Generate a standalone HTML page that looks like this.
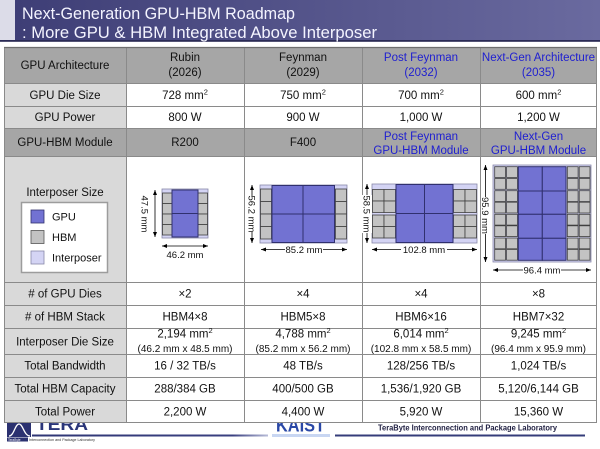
<!DOCTYPE html>
<html><head><meta charset="utf-8"><style>
html,body{margin:0;padding:0;background:#fff}
body{width:600px;height:449px;overflow:hidden}
svg{display:block}
text{font-family:"Liberation Sans",Arial,sans-serif}
</style></head><body>
<svg width="600" height="449" viewBox="0 0 600 449" xmlns="http://www.w3.org/2000/svg">
<defs>
<linearGradient id="tb" x1="0" y1="0" x2="1" y2="0">
<stop offset="0" stop-color="#3d3d75"/><stop offset="1" stop-color="#6a6a9f"/>
</linearGradient>
<linearGradient id="fl" x1="0" y1="0" x2="1" y2="0">
<stop offset="0" stop-color="#2f3675"/><stop offset="0.85" stop-color="#3a4080"/><stop offset="1" stop-color="#b8bcd8"/>
</linearGradient>
<marker id="ar" viewBox="0 0 10 10" refX="10" refY="5" markerUnits="userSpaceOnUse" markerWidth="5" markerHeight="5" orient="auto-start-reverse">
<path d="M0,1 L10,5 L0,9 z" fill="#000"/>
</marker>
</defs>

<!-- title bar -->
<rect x="0" y="0" width="600" height="41" fill="url(#tb)"/>
<rect x="0" y="0" width="15" height="40" fill="#dcdce8"/>
<rect x="0" y="40" width="600" height="1.8" fill="#2a2a55"/>
<text x="22" y="19" font-size="17" fill="#f4f4ff" textLength="273" lengthAdjust="spacingAndGlyphs">Next-Generation GPU-HBM Roadmap</text>
<text x="22" y="38" font-size="17" fill="#f4f4ff" textLength="355" lengthAdjust="spacingAndGlyphs">: More GPU &amp; HBM Integrated Above Interposer</text>

<!-- footer (drawn before table so table clips top) -->
<path d="M7,423 L31,423 L31,437 L7,437 Z" fill="#2b3170"/>
<path d="M9,436 C14,436 15,424 19,424 C23,424 24,436 30,436" fill="none" stroke="#fff" stroke-width="1.3"/>
<text x="36" y="430" font-size="17" font-weight="bold" fill="#2a3579" textLength="52" lengthAdjust="spacingAndGlyphs">TERA</text>
<rect x="32" y="434.5" width="236" height="2" fill="url(#fl)"/>
<rect x="7" y="437.5" width="21" height="4" fill="#2b3170"/>
<text x="8" y="441" font-size="3.2" fill="#fff">TeraByte</text>
<text x="29" y="441" font-size="3.3" fill="#333" textLength="66" lengthAdjust="spacingAndGlyphs">Interconnection and Package Laboratory</text>
<text x="276" y="431.5" font-size="18" font-weight="bold" fill="#2a48a6" textLength="49" lengthAdjust="spacingAndGlyphs">KAIST</text>
<rect x="272" y="434" width="58" height="3" fill="#c8d6f2"/>
<rect x="335" y="434.5" width="250" height="2" fill="#353c7a"/>
<text x="378" y="430.5" font-size="8" font-weight="bold" fill="#222244" textLength="179" lengthAdjust="spacingAndGlyphs">TeraByte Interconnection and Package Laboratory</text>

<!-- table backgrounds -->
<g>
<rect x="4" y="47" width="593" height="376" fill="#fff"/>
<rect x="4" y="47" width="593" height="36" fill="#a6a6a6"/>
<rect x="4" y="128" width="593" height="28" fill="#a6a6a6"/>
<rect x="4" y="83" width="122" height="45" fill="#d9d9d9"/>
<rect x="4" y="156" width="122" height="267" fill="#d9d9d9"/>
</g>
<!-- grid -->
<g stroke="#8a8a8a" stroke-width="1" fill="none">
<path d="M4,47.5H597 M4,83.5H597 M4,106.5H597 M4,128.5H597 M4,156.5H597 M4,282.5H597 M4,305.5H597 M4,328.5H597 M4,354.5H597 M4,377.5H597 M4,400.5H597 M4,422.5H597"/>
<path d="M4.5,47V423 M126.5,47V423 M244.5,47V423 M362.5,47V423 M480.5,47V423 M596.5,47V423"/>
</g>
<path d="M4,47.5H597" stroke="#6e6e6e" stroke-width="1.2"/>

<!-- row 0 header -->
<g font-size="11.5" fill="#111" text-anchor="middle">
<text x="65" y="69">GPU Architecture</text>
<text x="185" y="61">Rubin</text><text x="185" y="76">(2026)</text>
<text x="303" y="61">Feynman</text><text x="303" y="76">(2029)</text>
<text x="421" y="61" fill="#2020d0">Post Feynman</text><text x="421" y="76" fill="#2020d0">(2032)</text>
<text x="538.5" y="61" fill="#2020d0">Next-Gen Architecture</text><text x="538.5" y="76" fill="#2020d0">(2035)</text>

<text x="65" y="99">GPU Die Size</text>
<text x="185" y="99">728 mm<tspan font-size="7.5" dy="-4.5">2</tspan></text>
<text x="303" y="99">750 mm<tspan font-size="7.5" dy="-4.5">2</tspan></text>
<text x="421" y="99">700 mm<tspan font-size="7.5" dy="-4.5">2</tspan></text>
<text x="538.5" y="99">600 mm<tspan font-size="7.5" dy="-4.5">2</tspan></text>

<text x="65" y="121">GPU Power</text>
<text x="185" y="121">800 W</text>
<text x="303" y="121">900 W</text>
<text x="421" y="121">1,000 W</text>
<text x="538.5" y="121">1,200 W</text>

<text x="65" y="146">GPU-HBM Module</text>
<text x="185" y="146">R200</text>
<text x="303" y="146">F400</text>
<text x="421" y="140" fill="#2020d0">Post Feynman</text><text x="421" y="154" fill="#2020d0">GPU-HBM Module</text>
<text x="538.5" y="140" fill="#2020d0">Next-Gen</text><text x="538.5" y="154" fill="#2020d0">GPU-HBM Module</text>

<text x="65" y="297.5"># of GPU Dies</text>
<text x="185" y="297.5">×2</text>
<text x="303" y="297.5">×4</text>
<text x="421" y="297.5">×4</text>
<text x="538.5" y="297.5">×8</text>

<text x="65" y="320.5"># of HBM Stack</text>
<text x="185" y="320.5">HBM4×8</text>
<text x="303" y="320.5">HBM5×8</text>
<text x="421" y="320.5">HBM6×16</text>
<text x="538.5" y="320.5">HBM7×32</text>

<text x="65" y="345.5">Interposer Die Size</text>
<text x="185" y="337.5">2,194 mm<tspan font-size="7.5" dy="-4.5">2</tspan></text>
<text x="303" y="337.5">4,788 mm<tspan font-size="7.5" dy="-4.5">2</tspan></text>
<text x="421" y="337.5">6,014 mm<tspan font-size="7.5" dy="-4.5">2</tspan></text>
<text x="538.5" y="337.5">9,245 mm<tspan font-size="7.5" dy="-4.5">2</tspan></text>
<text x="185" y="351.8" font-size="10">(46.2 mm x 48.5 mm)</text>
<text x="303" y="351.8" font-size="10">(85.2 mm x 56.2 mm)</text>
<text x="421" y="351.8" font-size="10">(102.8 mm x 58.5 mm)</text>
<text x="538.5" y="351.8" font-size="10">(96.4 mm x 95.9 mm)</text>

<text x="65" y="369.7">Total Bandwidth</text>
<text x="185" y="369.7">16 / 32 TB/s</text>
<text x="303" y="369.7">48 TB/s</text>
<text x="421" y="369.7">128/256 TB/s</text>
<text x="538.5" y="369.7">1,024 TB/s</text>

<text x="65" y="392.7">Total HBM Capacity</text>
<text x="185" y="392.7">288/384 GB</text>
<text x="303" y="392.7">400/500 GB</text>
<text x="421" y="392.7">1,536/1,920 GB</text>
<text x="538.5" y="392.7">5,120/6,144 GB</text>

<text x="65" y="415.7">Total Power</text>
<text x="185" y="415.7">2,200 W</text>
<text x="303" y="415.7">4,400 W</text>
<text x="421" y="415.7">5,920 W</text>
<text x="538.5" y="415.7">15,360 W</text>
</g>

<!-- legend -->
<text x="65" y="196" font-size="11.5" text-anchor="middle" fill="#111">Interposer Size</text>
<rect x="21.5" y="202.5" width="86" height="70" fill="#fff" stroke="#9c9c9c" stroke-width="1.5"/>
<rect x="31" y="210" width="13" height="13" fill="#7272d2" stroke="#30306e" stroke-width="0.8"/>
<rect x="31" y="230.5" width="13" height="13" fill="#c3c3c3" stroke="#555" stroke-width="0.8"/>
<rect x="31" y="251" width="13" height="13" fill="#d4d4f4" stroke="#8888a8" stroke-width="0.8"/>
<g font-size="11" fill="#111">
<text x="52" y="220.5">GPU</text>
<text x="52" y="241">HBM</text>
<text x="52" y="261.5">Interposer</text>
</g>

<!-- Rubin diagram -->
<g stroke-width="0.8">
<rect x="162" y="189" width="46" height="49" fill="#d4d4f4" stroke="#8888a8"/>
<g fill="#c3c3c3" stroke="#404040">
<rect x="162.5" y="193" width="9.5" height="10.5"/><rect x="162.5" y="203.5" width="9.5" height="10.5"/>
<rect x="162.5" y="214" width="9.5" height="10.5"/><rect x="162.5" y="224.5" width="9.5" height="10.5"/>
<rect x="198" y="193" width="9.5" height="10.5"/><rect x="198" y="203.5" width="9.5" height="10.5"/>
<rect x="198" y="214" width="9.5" height="10.5"/><rect x="198" y="224.5" width="9.5" height="10.5"/>
</g>
<g fill="#7272d2" stroke="#30306e" stroke-width="1">
<rect x="172" y="190" width="26" height="23.5"/><rect x="172" y="213.5" width="26" height="23.5"/>
</g>
</g>
<g stroke="#000" stroke-width="0.8">
<line x1="155" y1="190" x2="155" y2="237" marker-start="url(#ar)" marker-end="url(#ar)"/>
<line x1="162" y1="246" x2="208" y2="246" marker-start="url(#ar)" marker-end="url(#ar)"/>
</g>
<text x="0" y="0" font-size="9.5" text-anchor="middle" fill="#111" transform="translate(145,214) rotate(90) translate(0,3.3)">47.5 mm</text>
<text x="185" y="258" font-size="9.5" text-anchor="middle" fill="#111">46.2 mm</text>

<!-- Feynman diagram -->
<g stroke-width="0.8">
<rect x="260" y="185" width="87" height="58" fill="#d4d4f4" stroke="#8888a8"/>
<g fill="#c3c3c3" stroke="#404040">
<rect x="260.5" y="189" width="11" height="12.5"/><rect x="260.5" y="201.5" width="11" height="12.5"/>
<rect x="260.5" y="214" width="11" height="12.5"/><rect x="260.5" y="226.5" width="11" height="12.5"/>
<rect x="335.5" y="189" width="11" height="12.5"/><rect x="335.5" y="201.5" width="11" height="12.5"/>
<rect x="335.5" y="214" width="11" height="12.5"/><rect x="335.5" y="226.5" width="11" height="12.5"/>
</g>
<g fill="#7272d2" stroke="#30306e" stroke-width="1">
<rect x="272" y="185.5" width="31" height="28.5"/><rect x="303" y="185.5" width="31.5" height="28.5"/>
<rect x="272" y="214" width="31" height="28.5"/><rect x="303" y="214" width="31.5" height="28.5"/>
</g>
</g>
<g stroke="#000" stroke-width="0.8">
<line x1="252" y1="185" x2="252" y2="243" marker-start="url(#ar)" marker-end="url(#ar)"/>
<line x1="261" y1="249.5" x2="347" y2="249.5" marker-start="url(#ar)" marker-end="url(#ar)"/>
</g>
<rect x="247" y="196" width="10" height="36" fill="#fff"/>
<rect x="285" y="245" width="38" height="9" fill="#fff"/>
<text x="0" y="0" font-size="9.5" text-anchor="middle" fill="#111" transform="translate(252,214) rotate(90) translate(0,3.3)">56.2 mm</text>
<text x="304" y="252.8" font-size="9.5" text-anchor="middle" fill="#111">85.2 mm</text>

<!-- Post Feynman diagram -->
<g stroke-width="0.8">
<rect x="372" y="184" width="105" height="59" fill="#d4d4f4" stroke="#8888a8"/>
<g fill="#c3c3c3" stroke="#404040">
<rect x="372.5" y="189.5" width="11.5" height="11.5"/><rect x="384" y="189.5" width="11.5" height="11.5"/>
<rect x="372.5" y="201" width="11.5" height="11.5"/><rect x="384" y="201" width="11.5" height="11.5"/>
<rect x="372.5" y="215" width="11.5" height="11.5"/><rect x="384" y="215" width="11.5" height="11.5"/>
<rect x="372.5" y="226.5" width="11.5" height="11.5"/><rect x="384" y="226.5" width="11.5" height="11.5"/>
<rect x="453.5" y="189.5" width="11.5" height="11.5"/><rect x="465" y="189.5" width="11.5" height="11.5"/>
<rect x="453.5" y="201" width="11.5" height="11.5"/><rect x="465" y="201" width="11.5" height="11.5"/>
<rect x="453.5" y="215" width="11.5" height="11.5"/><rect x="465" y="215" width="11.5" height="11.5"/>
<rect x="453.5" y="226.5" width="11.5" height="11.5"/><rect x="465" y="226.5" width="11.5" height="11.5"/>
</g>
<g fill="#7272d2" stroke="#30306e" stroke-width="1">
<rect x="396" y="184.5" width="28.5" height="29"/><rect x="424.5" y="184.5" width="28.5" height="29"/>
<rect x="396" y="213.5" width="28.5" height="29"/><rect x="424.5" y="213.5" width="28.5" height="29"/>
</g>
</g>
<g stroke="#000" stroke-width="0.8">
<line x1="367" y1="184" x2="367" y2="243" marker-start="url(#ar)" marker-end="url(#ar)"/>
<line x1="372" y1="249.5" x2="477" y2="249.5" marker-start="url(#ar)" marker-end="url(#ar)"/>
</g>
<rect x="362" y="195" width="10" height="38" fill="#fff"/>
<rect x="401" y="245" width="46" height="9" fill="#fff"/>
<text x="0" y="0" font-size="9.5" text-anchor="middle" fill="#111" transform="translate(367,214) rotate(90) translate(0,3.3)">58.5 mm</text>
<text x="424" y="252.8" font-size="9.5" text-anchor="middle" fill="#111">102.8 mm</text>

<!-- Next-Gen diagram -->
<g stroke-width="0.8">
<rect x="493" y="165" width="98" height="97" fill="#d4d4f4" stroke="#8888a8"/>
<g fill="#c3c3c3" stroke="#404040">
<rect x="494.7" y="166.7" width="10.8" height="10.8"/><rect x="506.6" y="166.7" width="10.8" height="10.8"/>
<rect x="494.7" y="178.5" width="10.8" height="10.8"/><rect x="506.6" y="178.5" width="10.8" height="10.8"/>
<rect x="494.7" y="190.7" width="10.8" height="10.8"/><rect x="506.6" y="190.7" width="10.8" height="10.8"/>
<rect x="494.7" y="202.2" width="10.8" height="10.8"/><rect x="506.6" y="202.2" width="10.8" height="10.8"/>
<rect x="494.7" y="214.3" width="10.8" height="10.8"/><rect x="506.6" y="214.3" width="10.8" height="10.8"/>
<rect x="494.7" y="225.8" width="10.8" height="10.8"/><rect x="506.6" y="225.8" width="10.8" height="10.8"/>
<rect x="494.7" y="238" width="10.8" height="10.8"/><rect x="506.6" y="238" width="10.8" height="10.8"/>
<rect x="494.7" y="249.4" width="10.8" height="10.8"/><rect x="506.6" y="249.4" width="10.8" height="10.8"/>
<rect x="567.3" y="166.7" width="10.8" height="10.8"/><rect x="579.2" y="166.7" width="10.8" height="10.8"/>
<rect x="567.3" y="178.5" width="10.8" height="10.8"/><rect x="579.2" y="178.5" width="10.8" height="10.8"/>
<rect x="567.3" y="190.7" width="10.8" height="10.8"/><rect x="579.2" y="190.7" width="10.8" height="10.8"/>
<rect x="567.3" y="202.2" width="10.8" height="10.8"/><rect x="579.2" y="202.2" width="10.8" height="10.8"/>
<rect x="567.3" y="214.3" width="10.8" height="10.8"/><rect x="579.2" y="214.3" width="10.8" height="10.8"/>
<rect x="567.3" y="225.8" width="10.8" height="10.8"/><rect x="579.2" y="225.8" width="10.8" height="10.8"/>
<rect x="567.3" y="238" width="10.8" height="10.8"/><rect x="579.2" y="238" width="10.8" height="10.8"/>
<rect x="567.3" y="249.4" width="10.8" height="10.8"/><rect x="579.2" y="249.4" width="10.8" height="10.8"/>
</g>
<g fill="#7272d2" stroke="#30306e" stroke-width="1">
<rect x="518.3" y="166.7" width="24" height="24.3"/><rect x="542.3" y="166.7" width="23.7" height="24.3"/>
<rect x="518.3" y="191" width="24" height="23.3"/><rect x="542.3" y="191" width="23.7" height="23.3"/>
<rect x="518.3" y="214.3" width="24" height="24"/><rect x="542.3" y="214.3" width="23.7" height="24"/>
<rect x="518.3" y="238.3" width="24" height="22"/><rect x="542.3" y="238.3" width="23.7" height="22"/>
</g>
</g>
<g stroke="#000" stroke-width="0.8">
<line x1="485.5" y1="165" x2="485.5" y2="262" marker-start="url(#ar)" marker-end="url(#ar)"/>
<line x1="493" y1="270" x2="591" y2="270" marker-start="url(#ar)" marker-end="url(#ar)"/>
</g>
<rect x="481" y="197" width="10" height="37" fill="#fff"/>
<rect x="523" y="265.5" width="38" height="9" fill="#fff"/>
<text x="0" y="0" font-size="9.5" text-anchor="middle" fill="#111" transform="translate(485.5,215.5) rotate(90) translate(0,3.3)">95.9 mm</text>
<text x="542" y="273.3" font-size="9.5" text-anchor="middle" fill="#111">96.4 mm</text>
</svg>
</body></html>
